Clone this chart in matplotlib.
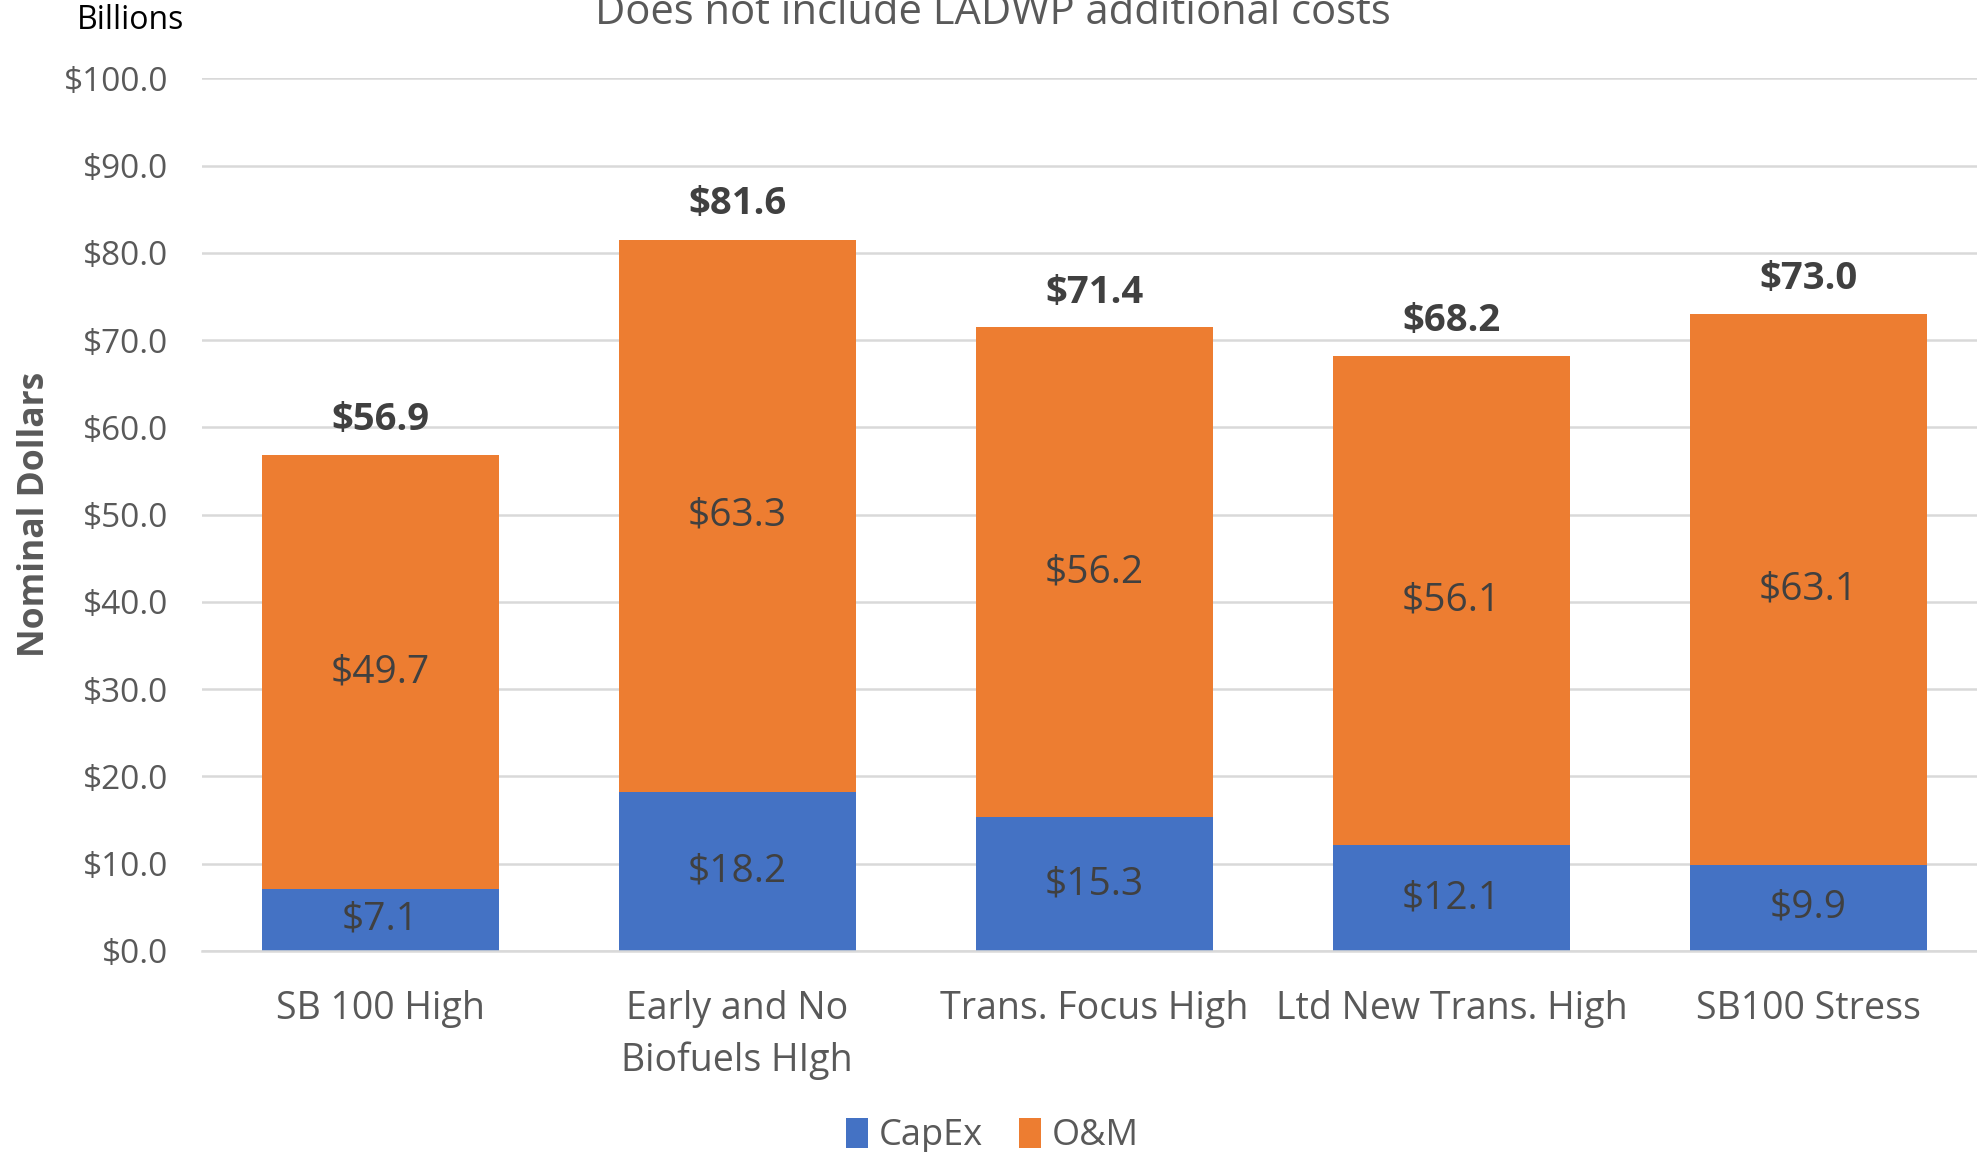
import matplotlib
matplotlib.use('Agg')
import matplotlib.pyplot as plt
import numpy as np

plt.rcParams['font.family'] = ['Open Sans', 'DejaVu Sans']

categories = ['SB 100 High', 'Early and No\nBiofuels HIgh', 'Trans. Focus High',
              'Ltd New Trans. High', 'SB100 Stress']
capex = [7.1, 18.2, 15.3, 12.1, 9.9]
om = [49.7, 63.3, 56.2, 56.1, 63.1]
totals = [56.9, 81.6, 71.4, 68.2, 73.0]

blue = '#4472C4'
orange = '#ED7D31'
gray = '#595959'
dark = '#404040'

fig = plt.figure(figsize=(19.77, 11.52), dpi=100)
ax = fig.add_axes([0.102, 0.1745, 0.898, 0.7575])

x = np.arange(len(categories))
w = 0.664
b1 = ax.bar(x, capex, w, color=blue, label='CapEx', zorder=2)
b2 = ax.bar(x, om, w, bottom=capex, color=orange, label='O&M', zorder=2)

for i in range(len(x)):
    ax.text(x[i], capex[i] / 2, '$%.1f' % capex[i], ha='center', va='center',
            fontsize=28, color=dark, zorder=3)
    ax.text(x[i], capex[i] + om[i] / 2, '$%.1f' % om[i], ha='center', va='center',
            fontsize=28, color=dark, zorder=3)
    ax.annotate('$%.1f' % totals[i], (x[i], totals[i]), xytext=(0, 25),
                textcoords='offset points', ha='center', va='center',
                fontsize=27.5, fontweight='bold', color=dark, zorder=3)

ax.set_xlim(-0.5, 4.472)
ax.set_ylim(0, 100)
ax.set_yticks(np.arange(0, 101, 10))
ax.set_yticklabels(['$%.1f' % v for v in np.arange(0, 101, 10)])
ax.set_xticks(x)
ax.set_xticklabels(categories, fontsize=27, color=gray, linespacing=1.45)
ax.tick_params(axis='y', labelsize=24, labelcolor=gray, length=0, pad=24)
ax.tick_params(axis='x', length=0, pad=28)
ax.grid(axis='y', color='#D9D9D9', linewidth=1.8, zorder=0)
for s in ['top', 'right', 'left']:
    ax.spines[s].set_visible(False)
ax.spines['bottom'].set_color('#D9D9D9')
ax.spines['bottom'].set_linewidth(1.8)

ax.set_ylabel('Nominal Dollars', fontsize=25.5, fontweight='bold', color=gray)
ax.yaxis.set_label_coords(-0.084, 0.5)
fig.text(0.066, 0.982, 'Billions', fontsize=23, color='black', ha='center', va='center')
fig.text(0.502, 0.989, 'Does not include LADWP additional costs', fontsize=30,
         color=gray, ha='center', va='center')

fig.legend(handles=[b1, b2], loc='center', bbox_to_anchor=(0.502, 0.014), ncol=2,
           frameon=False, fontsize=26, labelcolor=gray, handlelength=0.6,
           handleheight=0.9, handletextpad=0.3, columnspacing=1.0)

fig.savefig('out.png', dpi=100)
